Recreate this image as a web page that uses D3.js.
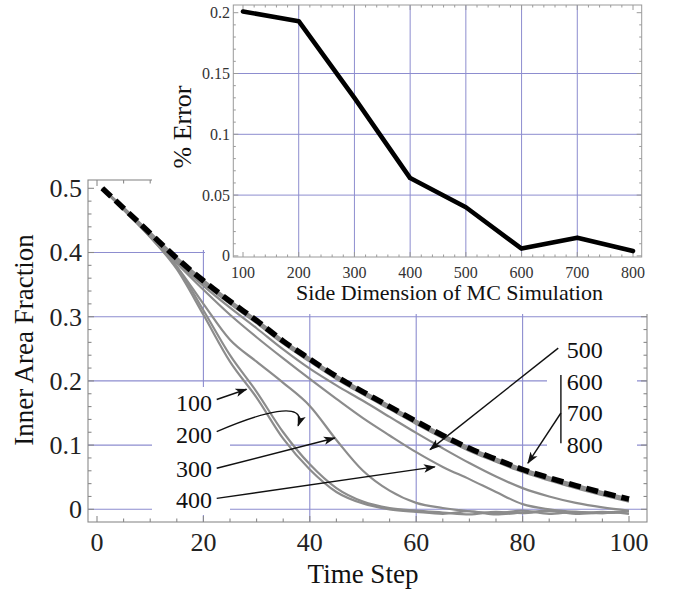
<!DOCTYPE html>
<html>
<head>
<meta charset="utf-8">
<script src="https://cdn.jsdelivr.net/npm/d3@7"></script>
<style>
  html, body { margin: 0; padding: 0; background: #fff; }
  svg { display: block; }
  text { font-family: "Liberation Serif", "Times New Roman", serif; }
</style>
</head>
<body>
<svg id="chart" width="673" height="595"></svg>
<script>
// ---- Main panel: inner area fraction vs. time step ----
const timeSteps = [1, 5, 10, 15, 20, 25, 30, 35, 40, 45, 50, 55, 60, 65, 70, 75, 80, 85, 90, 95, 100];

// continuum prediction (dashed)
const theory = [0.500, 0.469, 0.430, 0.391, 0.356, 0.324, 0.294, 0.262, 0.234, 0.207, 0.183, 0.160, 0.137, 0.115, 0.095, 0.078, 0.062, 0.049, 0.037, 0.026, 0.016];

// Monte Carlo runs by lattice side length
const run100 = [0.500, 0.467, 0.424, 0.374, 0.303, 0.230, 0.174, 0.110, 0.062, 0.027, 0.009, 0.000, -0.004, -0.007, -0.003, -0.008, -0.005, -0.002, -0.006, -0.004, -0.007];
const run200 = [0.500, 0.468, 0.426, 0.378, 0.310, 0.240, 0.183, 0.120, 0.070, 0.033, 0.012, 0.002, -0.002, -0.005, -0.008, -0.004, -0.006, -0.003, -0.007, -0.005, -0.003];
const run300 = [0.500, 0.467, 0.424, 0.378, 0.320, 0.264, 0.230, 0.197, 0.161, 0.108, 0.060, 0.029, 0.010, 0.002, -0.003, -0.006, -0.002, -0.007, -0.004, -0.006, -0.003];
const run400 = [0.500, 0.467, 0.425, 0.383, 0.342, 0.303, 0.268, 0.235, 0.203, 0.172, 0.142, 0.115, 0.089, 0.066, 0.047, 0.027, 0.008, 0.000, -0.004, -0.006, -0.003];
const run500 = [0.500, 0.467, 0.426, 0.385, 0.348, 0.314, 0.282, 0.249, 0.219, 0.193, 0.169, 0.144, 0.119, 0.095, 0.072, 0.051, 0.033, 0.020, 0.010, 0.003, -0.002];
const run600 = [0.500, 0.467, 0.427, 0.387, 0.352, 0.320, 0.290, 0.258, 0.230, 0.203, 0.179, 0.156, 0.133, 0.111, 0.091, 0.074, 0.058, 0.045, 0.033, 0.022, 0.012];
const run700 = [0.500, 0.468, 0.428, 0.389, 0.354, 0.322, 0.292, 0.260, 0.232, 0.205, 0.181, 0.158, 0.135, 0.113, 0.093, 0.076, 0.060, 0.047, 0.035, 0.024, 0.014];
const run800 = [0.500, 0.470, 0.431, 0.392, 0.357, 0.325, 0.295, 0.263, 0.235, 0.208, 0.184, 0.161, 0.138, 0.116, 0.096, 0.079, 0.063, 0.050, 0.038, 0.027, 0.017];

const runs = [run100, run200, run300, run400, run500, run600, run700, run800];
const runLabelsLeft = ["100", "200", "300", "400"];
const runLabelsRight = ["500", "600", "700", "800"];

const mainXTicks = [0, 20, 40, 60, 80, 100];
const mainYTicks = [0, 0.1, 0.2, 0.3, 0.4, 0.5];
const mainYTickLabels = ["0", "0.1", "0.2", "0.3", "0.4", "0.5"];
const mainXGrid = [20, 40, 60, 80];
const mainYGrid = [0, 0.1, 0.2, 0.3, 0.4];

// ---- Inset: error vs. lattice size ----
const sideDims = [100, 200, 300, 400, 500, 600, 700, 800];
const pctError = [0.201, 0.193, 0.130, 0.064, 0.040, 0.006, 0.015, 0.004];
const insetYTicks = [0, 0.05, 0.1, 0.15, 0.2];
const insetYTickLabels = ["0", "0.05", "0.1", "0.15", "0.2"];
const insetXGrid = [200, 300, 400, 500, 600, 700];
const insetYGrid = [0.05, 0.1, 0.15];

// ---- layout ----
const svg = d3.select("#chart");
const W = 673, H = 595;
svg.append("rect").attr("width", W).attr("height", H).attr("fill", "#fff");

const frame = { left: 88, right: 647, top: 180, bottom: 522 };
const x = d3.scaleLinear().domain([0, 100]).range([97, 629]);
const y = d3.scaleLinear().domain([0, 0.5]).range([509.3, 188.3]);

const gridColor = "#8d8dcf";
const frameColor = "#8a8a8a";

const defs = svg.append("defs");
defs.append("marker")
  .attr("id", "head")
  .attr("viewBox", "0 -5 12 10")
  .attr("refX", 11).attr("refY", 0)
  .attr("markerWidth", 12).attr("markerHeight", 10)
  .attr("markerUnits", "userSpaceOnUse")
  .attr("orient", "auto")
  .append("path")
  .attr("d", "M0,-4.2L12,0L0,4.2L3,0Z")
  .attr("fill", "#111");

// main grid
const grid = svg.append("g");
grid.selectAll("line.h").data(mainYGrid).join("line")
  .attr("x1", frame.left).attr("x2", frame.right)
  .attr("y1", d => y(d)).attr("y2", d => y(d))
  .attr("stroke", gridColor).attr("stroke-width", 1.1);
grid.selectAll("line.v").data(mainXGrid).join("line")
  .attr("y1", frame.top).attr("y2", frame.bottom)
  .attr("x1", d => x(d)).attr("x2", d => x(d))
  .attr("stroke", gridColor).attr("stroke-width", 1.1);

// main frame and ticks (pointing inward)
const fr = svg.append("g").attr("stroke", frameColor).attr("stroke-width", 1.1);
fr.append("rect")
  .attr("x", frame.left).attr("y", frame.top)
  .attr("width", frame.right - frame.left).attr("height", frame.bottom - frame.top)
  .attr("fill", "none");
const xMinor = d3.range(0, 101, 5);
const yMinor = d3.range(0, 0.5001, 0.02);
xMinor.forEach(t => {
  const len = t % 20 === 0 ? 6 : 3.5;
  fr.append("line").attr("x1", x(t)).attr("x2", x(t)).attr("y1", frame.bottom).attr("y2", frame.bottom - len);
  fr.append("line").attr("x1", x(t)).attr("x2", x(t)).attr("y1", frame.top).attr("y2", frame.top + len);
});
yMinor.forEach(v => {
  const major = Math.abs(v * 10 - Math.round(v * 10)) < 1e-6;
  const len = major ? 6 : 3.5;
  fr.append("line").attr("x1", frame.left).attr("x2", frame.left + len).attr("y1", y(v)).attr("y2", y(v));
  fr.append("line").attr("x1", frame.right).attr("x2", frame.right - len).attr("y1", y(v)).attr("y2", y(v));
});

// white backing behind the run labels
svg.append("rect").attr("x", 152).attr("y", 387).attr("width", 78).attr("height", 128).attr("fill", "#fff");
svg.append("rect").attr("x", 547).attr("y", 333).attr("width", 90).attr("height", 129).attr("fill", "#fff");

// ---- inset ----
const inset = svg.append("g");
inset.append("path")
  .attr("d", "M152,0H652V314H205V250H152Z")
  .attr("fill", "#fff");

const iFrame = { left: 233.3, right: 641.7, top: 5, bottom: 257 };
const xi = d3.scaleLinear().domain([100, 800]).range([243, 633]);
const yi = d3.scaleLinear().domain([0, 0.2]).range([255.9, 12.7]);

inset.selectAll("line.ih").data(insetYGrid).join("line")
  .attr("x1", iFrame.left).attr("x2", iFrame.right)
  .attr("y1", d => yi(d)).attr("y2", d => yi(d))
  .attr("stroke", gridColor).attr("stroke-width", 1);
inset.selectAll("line.iv").data(insetXGrid).join("line")
  .attr("y1", iFrame.top).attr("y2", iFrame.bottom)
  .attr("x1", d => xi(d)).attr("x2", d => xi(d))
  .attr("stroke", gridColor).attr("stroke-width", 1);

const ifr = inset.append("g").attr("stroke", "#9a9a9a").attr("stroke-width", 1);
ifr.append("rect")
  .attr("x", iFrame.left).attr("y", iFrame.top)
  .attr("width", iFrame.right - iFrame.left).attr("height", iFrame.bottom - iFrame.top)
  .attr("fill", "none");
d3.range(100, 801, 20).forEach(s => {
  const len = s % 100 === 0 ? 5 : 2.5;
  ifr.append("line").attr("x1", xi(s)).attr("x2", xi(s)).attr("y1", iFrame.bottom).attr("y2", iFrame.bottom - len);
  ifr.append("line").attr("x1", xi(s)).attr("x2", xi(s)).attr("y1", iFrame.top).attr("y2", iFrame.top + len);
});
d3.range(0, 0.2001, 0.01).forEach(v => {
  const major = Math.abs(v * 20 - Math.round(v * 20)) < 1e-6;
  const len = major ? 5 : 2.5;
  ifr.append("line").attr("x1", iFrame.left).attr("x2", iFrame.left + len).attr("y1", yi(v)).attr("y2", yi(v));
  ifr.append("line").attr("x1", iFrame.right).attr("x2", iFrame.right - len).attr("y1", yi(v)).attr("y2", yi(v));
});

inset.append("path")
  .datum(sideDims.map((s, i) => [s, pctError[i]]))
  .attr("d", d3.line().x(d => xi(d[0])).y(d => yi(d[1])))
  .attr("fill", "none").attr("stroke", "#000")
  .attr("stroke-width", 4.6).attr("stroke-linejoin", "round").attr("stroke-linecap", "round");

inset.selectAll("text.ixt").data(sideDims).join("text")
  .attr("x", d => xi(d)).attr("y", 278)
  .attr("text-anchor", "middle").attr("font-size", 16).attr("fill", "#333")
  .text(d => d);
inset.selectAll("text.iyt").data(insetYTicks).join("text")
  .attr("x", 230).attr("y", d => yi(d) + 5.5)
  .attr("text-anchor", "end").attr("font-size", 16).attr("fill", "#333")
  .text((d, i) => insetYTickLabels[i]);
inset.append("text")
  .attr("x", (iFrame.left + iFrame.right) / 2 + 12).attr("y", 300)
  .attr("text-anchor", "middle").attr("font-size", 22).attr("fill", "#111")
  .text("Side Dimension of MC Simulation");
inset.append("text")
  .attr("transform", "translate(191,127) rotate(-90)")
  .attr("text-anchor", "middle").attr("font-size", 26).attr("fill", "#111")
  .text("% Error");

// ---- curves ----
const line = d3.line()
  .x((d, i) => x(timeSteps[i]))
  .y(d => y(d))
  .curve(d3.curveMonotoneX);

svg.append("g").selectAll("path").data(runs).join("path")
  .attr("d", d => line(d))
  .attr("fill", "none").attr("stroke", "#8c8c8c")
  .attr("stroke-width", 2.2).attr("stroke-linejoin", "round");

svg.append("path")
  .attr("d", line(theory))
  .attr("fill", "none").attr("stroke", "#000")
  .attr("stroke-width", 5.5).attr("stroke-dasharray", "12,6");

// ---- main tick labels and titles ----
svg.selectAll("text.xt").data(mainXTicks).join("text")
  .attr("x", d => x(d)).attr("y", 551)
  .attr("text-anchor", "middle").attr("font-size", 26).attr("fill", "#222")
  .text(d => d);
svg.selectAll("text.yt").data(mainYTicks).join("text")
  .attr("x", 82).attr("y", d => y(d) + 8.8)
  .attr("text-anchor", "end").attr("font-size", 26).attr("fill", "#222")
  .text((d, i) => mainYTickLabels[i]);
svg.append("text")
  .attr("x", x(50)).attr("y", 583)
  .attr("text-anchor", "middle").attr("font-size", 27).attr("fill", "#111")
  .text("Time Step");
svg.append("text")
  .attr("transform", "translate(33,340) rotate(-90)")
  .attr("text-anchor", "middle").attr("font-size", 27).attr("fill", "#111")
  .text("Inner Area Fraction");

// ---- run labels with arrows ----
const leftLabelPos = [0.166, 0.116, 0.064, 0.0145];
const rightLabelPos = [0.248, 0.199, 0.150, 0.100];

svg.selectAll("text.ll").data(runLabelsLeft).join("text")
  .attr("x", x(21.6)).attr("y", (d, i) => y(leftLabelPos[i]) + 8.3)
  .attr("text-anchor", "end").attr("font-size", 24).attr("fill", "#111")
  .text(d => d);
svg.selectAll("text.rl").data(runLabelsRight).join("text")
  .attr("x", x(88.3)).attr("y", (d, i) => y(rightLabelPos[i]) + 8.3)
  .attr("text-anchor", "start").attr("font-size", 24).attr("fill", "#111")
  .text(d => d);

const arrows = [
  [[22.5, 0.171], [28.1, 0.187]],
  [[22.5, 0.064], [44.7, 0.111]],
  [[22.5, 0.017], [63.5, 0.066]],
  [[86.7, 0.251], [62.6, 0.093]],
  [[87.2, 0.150], [81.0, 0.072]]
];
const ann = svg.append("g").attr("stroke", "#111").attr("stroke-width", 1.4).attr("fill", "none");
arrows.forEach(a => {
  ann.append("line")
    .attr("x1", x(a[0][0])).attr("y1", y(a[0][1]))
    .attr("x2", x(a[1][0])).attr("y2", y(a[1][1]))
    .attr("marker-end", "url(#head)");
});
// hooked arrow for the 200 run
const hook = [[22.5, 0.121], [30.6, 0.150], [39.6, 0.172], [37.8, 0.130]];
const hp = d3.path();
hp.moveTo(x(hook[0][0]), y(hook[0][1]));
hp.bezierCurveTo(x(hook[1][0]), y(hook[1][1]), x(hook[2][0]), y(hook[2][1]), x(hook[3][0]), y(hook[3][1]));
ann.append("path").attr("d", hp.toString()).attr("marker-end", "url(#head)");
// bracket grouping 600-800
ann.append("line")
  .attr("x1", x(87.2)).attr("x2", x(87.2))
  .attr("y1", y(0.209)).attr("y2", y(0.103));
</script>
</body>
</html>
